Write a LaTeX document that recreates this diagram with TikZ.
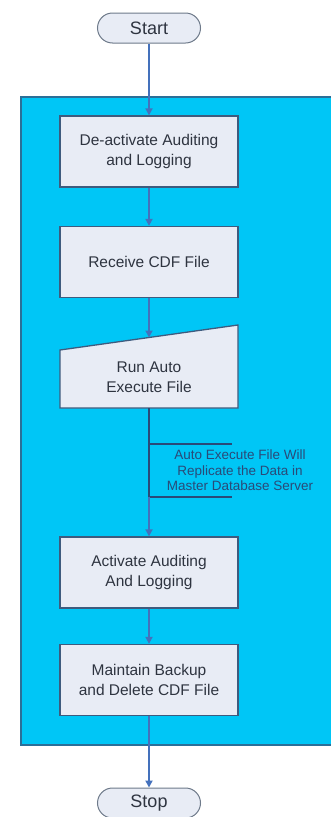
\documentclass[tikz,border=0pt]{standalone}
\usepackage{fontspec}
\setmainfont{Liberation Sans}
\usetikzlibrary{arrows.meta}
\definecolor{lane}{HTML}{00C6F6}
\definecolor{laneedge}{HTML}{2B6F98}
\definecolor{boxfill}{HTML}{E8ECF5}
\definecolor{boxedge}{HTML}{3E5B7E}
\definecolor{termedge}{HTML}{6E7A8A}
\definecolor{flow}{HTML}{4471BC}
\definecolor{ink}{HTML}{2E3440}
\definecolor{notecol}{HTML}{2A4A78}
\begin{document}
\begin{tikzpicture}[x=1pt,y=-1pt,
  terminal/.style={draw=termedge, fill=boxfill, line width=1pt,
    minimum width=103pt, minimum height=30pt, rounded corners=15pt,
    inner sep=0pt, font=\fontsize{18}{20}\selectfont, text=ink},
  stepbox/.style={draw=boxedge, fill=boxfill, line width=1.3pt,
    minimum width=178pt, minimum height=71pt, inner sep=0pt,
    align=center, font=\fontsize{15.5}{20}\selectfont, text=ink},
  flowline/.style={draw=flow, line width=1.8pt},
  flowarrow/.style={flowline, -{Triangle[length=7pt,width=7pt]}},
  noteline/.style={draw=notecol, line width=1.2pt}]
\useasboundingbox (0,0) rectangle (331,817);
\fill[white] (0,0) rectangle (331,817);

% process lane
\draw[fill=lane, draw=laneedge, line width=1.2pt] (21,97) rectangle (334,745);

% nodes
\node[terminal] (start) at (149,28) {Start};
\node[stepbox] (deact) at (149,151.5) {De-activate Auditing\\and Logging};
\node[stepbox] (recv) at (149,262) {Receive CDF File};

% manual input shape for the auto execute step
\draw[draw=boxedge, fill=boxfill, line width=1.3pt]
  (60,350) -- (238,325) -- (238,408) -- (60,408) -- cycle;
\node[align=center, font=\fontsize{15.5}{20}\selectfont, text=ink] (run) at (149,377)
  {Run Auto\\Execute File};
\coordinate (runtop) at (149,337.5);
\coordinate (runbot) at (149,408);

\node[stepbox] (act) at (149,572.5) {Activate Auditing\\And Logging};
\node[stepbox] (maint) at (149,680) {Maintain Backup\\and Delete CDF File};
\node[terminal] (stop) at (149,803) {Stop};

% annotation bracket
\coordinate (ntop) at (149,444);
\coordinate (nbot) at (149,497);
\coordinate (ntopr) at (232,444);
\coordinate (nbotr) at (232,497);
\draw[noteline] (ntop) -- (ntopr);
\draw[noteline] (nbot) -- (nbotr);
\node[align=center, font=\fontsize{13.5}{15.5}\selectfont, text=notecol] (note) at (240,470.5)
  {Auto Execute File Will\\Replicate the Data in\\Master Database Server};

% connectors
\draw[flowarrow] (start) -- (deact);
\draw[flowarrow] (deact) -- (recv);
\draw[flowarrow] (recv.south) -- (runtop);
\draw[noteline] (runbot) -- (nbot);
\draw[flowarrow] (nbot) -- (act.north);
\draw[flowarrow] (act) -- (maint);
\draw[flowarrow] (maint) -- (stop);
\end{tikzpicture}
\end{document}
